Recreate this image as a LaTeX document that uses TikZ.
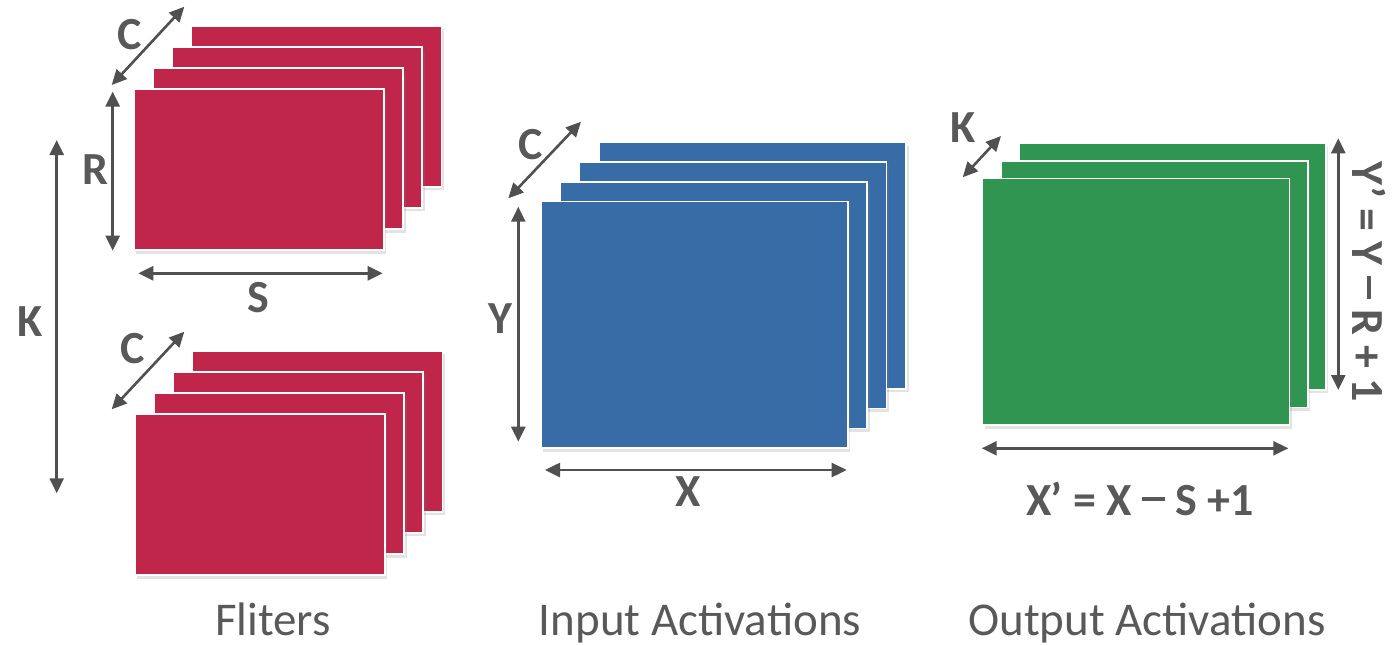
\documentclass[tikz,border=0pt]{standalone}
\usepackage{fontspec}
\setmainfont{Carlito}
\usetikzlibrary{arrows.meta,shadows}
\definecolor{fred}{HTML}{C0254A}
\definecolor{iblue}{HTML}{386CA6}
\definecolor{ogreen}{HTML}{2F9550}
\definecolor{dgray}{HTML}{505050}
\definecolor{tgray}{HTML}{595959}
\newcommand\longdash{\rule[14.5pt]{23pt}{4pt}}
\tikzset{
  sheet/.style={draw=white, line width=1.6pt, fill=#1, anchor=north west, inner sep=0pt,
    drop shadow={opacity=0.22, shadow xshift=2.5pt, shadow yshift=-3.5pt}},
  fsheet/.style={sheet=fred, minimum width=250pt, minimum height=161pt},
  bsheet/.style={sheet=iblue, minimum width=307pt, minimum height=246.5pt},
  gsheet/.style={sheet=ogreen, minimum width=307pt, minimum height=246.5pt},
  dim/.style={draw=dgray, line width=2.6pt,
    {Triangle[length=15pt,width=14pt]}-{Triangle[length=15pt,width=14pt]}},
  lab/.style={font=\fontsize{46}{46}\selectfont\bfseries, text=tgray, inner sep=0pt},
  bot/.style={font=\fontsize{47}{47}\selectfont, text=tgray, inner sep=0pt, anchor=base}
}
\begin{document}
\begin{tikzpicture}[x=1pt,y=-1pt]
\useasboundingbox (0,0) rectangle (1394,645);
% filters, top stack
\foreach \i in {3,2,1,0}
  \node[fsheet] (ft\i) at ({133+19.2*\i},{88.3-21.1*\i}) {};
% filters, bottom stack
\foreach \i in {3,2,1,0}
  \node[fsheet] (fb\i) at ({134+19.2*\i},{413.3-21.1*\i}) {};
% input activations
\foreach \i in {3,2,1,0}
  \node[bsheet] (in\i) at ({540+19.4*\i},{200.7-19.7*\i}) {};
% output activations
\foreach \i in {2,1,0}
  \node[gsheet] (out\i) at ({981.7+18.2*\i},{177.7-17.6*\i}) {};

% dimension arrows
\coordinate (c1a) at (111.7,85);   \coordinate (c1b) at (184.3,6.7);
\coordinate (ra) at (112.7,91.5);  \coordinate (rb) at (112.7,250.7);
\coordinate (sa) at (138.3,273.3); \coordinate (sb) at (382.7,273.3);
\coordinate (ka) at (56.7,140);    \coordinate (kb) at (56.7,493.3);
\coordinate (c2a) at (111.7,409.3);\coordinate (c2b) at (184.3,331.7);
\coordinate (c3a) at (508.3,198.3);\coordinate (c3b) at (581,121.7);
\coordinate (ya) at (518.3,206.7); \coordinate (yb) at (518.3,441.7);
\coordinate (xa) at (545,470);     \coordinate (xb) at (846.7,470);
\coordinate (k2a) at (962.7,177.3);\coordinate (k2b) at (1001,136);
\coordinate (ypa) at (1338.3,138.3);\coordinate (ypb) at (1338.3,390);
\coordinate (xpa) at (981.7,448.3);\coordinate (xpb) at (1288.3,448.3);
\draw[dim] (c1a) -- (c1b);
\draw[dim] (ra) -- (rb);
\draw[dim] (sa) -- (sb);
\draw[dim] (ka) -- (kb);
\draw[dim] (c2a) -- (c2b);
\draw[dim] (c3a) -- (c3b);
\draw[dim] (ya) -- (yb);
\draw[dim] (xa) -- (xb);
\draw[dim] (k2a) -- (k2b);
\draw[dim] (ypa) -- (ypb);
\draw[dim] (xpa) -- (xpb);

% labels
\node[lab] (lc1) at (130,35) {C};
\node[lab] (lr) at (95,170) {R};
\node[lab] (ls) at (258,298) {S};
\node[lab] (lk) at (30,322) {K};
\node[lab] (lc2) at (133,349) {C};
\node[lab] (lc3) at (531,145) {C};
\node[lab] (ly) at (500,319) {Y};
\node[lab] (lx) at (688,492) {X};
\node[lab] (lk2) at (963,128) {K};
\node[lab, anchor=base] (lxp) at (1140,515) {X’ = X \longdash{} S +1};
\node[lab, rotate=-90] (lyp) at (1369,282) {Y’ = Y \longdash{} R + 1};

\node[bot] (tf) at (273,635) {Fliters};
\node[bot] (ti) at (700,635) {Input Activations};
\node[bot] (to) at (1147,635) {Output Activations};
\end{tikzpicture}
\end{document}
